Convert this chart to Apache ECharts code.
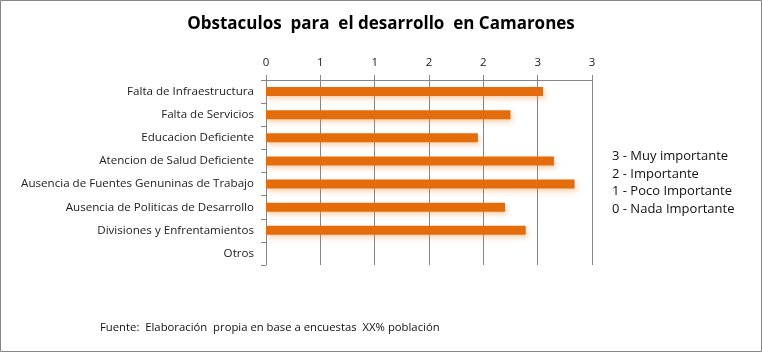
<!DOCTYPE html>
<html>
<head>
<meta charset="utf-8">
<script src="https://cdn.jsdelivr.net/npm/echarts@6/dist/echarts.min.js"></script>
<style>
html,body{margin:0;padding:0;background:#fff;}
#chart{width:762px;height:352px;}
</style>
</head>
<body>
<div id="chart"></div>
<script>
var categories = [
  "Falta de Infraestructura",
  "Falta de Servicios",
  "Educacion Deficiente",
  "Atencion de Salud Deficiente",
  "Ausencia de Fuentes Genuninas de Trabajo",
  "Ausencia de Politicas de Desarrollo",
  "Divisiones y Enfrentamientos",
  "Otros"
];
var values = [2.55, 2.25, 1.95, 2.65, 2.84, 2.20, 2.39, 0];
var legendLines = [
  "3 - Muy importante",
  "2 - Importante",
  "1 - Poco Importante",
  "0 - Nada Importante"
];
var titleText = "Obstaculos  para  el desarrollo  en Camarones";
var sourceText = "Fuente:  Elaboración  propia en base a encuestas  XX% población";

var FONT = "Open Sans";
var chart = echarts.init(document.getElementById('chart'), null, {renderer: 'canvas'});
var option = {
  backgroundColor: '#fff',
  animation: false,
  title: {
    text: titleText,
    left: 'center',
    top: 11,
    textStyle: {fontFamily: FONT, fontWeight: 'bold', fontSize: 17, color: '#000'}
  },
  grid: {left: 266, right: 170, top: 80, bottom: 87, containLabel: false},
  xAxis: {
    type: 'value',
    position: 'top',
    min: 0, max: 3, interval: 0.5,
    axisLine: {show: true, lineStyle: {color: '#868686', width: 1}},
    axisTick: {show: true, length: 5, lineStyle: {color: '#868686'}},
    splitLine: {show: true, lineStyle: {color: '#868686', width: 1}},
    axisLabel: {
      fontFamily: FONT, fontSize: 11.5, color: '#222', margin: 11,
      formatter: function (v) { return String(Math.round(v)); }
    }
  },
  yAxis: {
    type: 'category',
    inverse: true,
    data: categories,
    axisLine: {show: true, lineStyle: {color: '#868686', width: 1}},
    axisTick: {show: true, length: 5, lineStyle: {color: '#868686'}},
    axisLabel: {fontFamily: FONT, fontSize: 11.6, color: '#222', margin: 12}
  },
  series: [{
    type: 'bar',
    data: values,
    barWidth: 9,
    itemStyle: {
      color: '#E46C0A',
      shadowColor: 'rgba(240,130,40,0.35)',
      shadowBlur: 5,
      shadowOffsetX: 2,
      shadowOffsetY: 3
    }
  }],
  graphic: [
    {
      type: 'rect',
      shape: {x: 0.5, y: 0.5, width: 761, height: 351},
      style: {fill: 'none', stroke: '#868686', lineWidth: 1},
      silent: true
    },
    {
      type: 'text',
      left: 612, top: 148,
      style: {
        text: legendLines.join('\n'),
        fontFamily: FONT, fontSize: 13, lineHeight: 17.5, fill: '#111'
      }
    },
    {
      type: 'text',
      left: 100, top: 322,
      style: {text: sourceText, fontFamily: FONT, fontSize: 11.3, fill: '#111'}
    }
  ]
};
chart.setOption(option);
</script>
</body>
</html>
